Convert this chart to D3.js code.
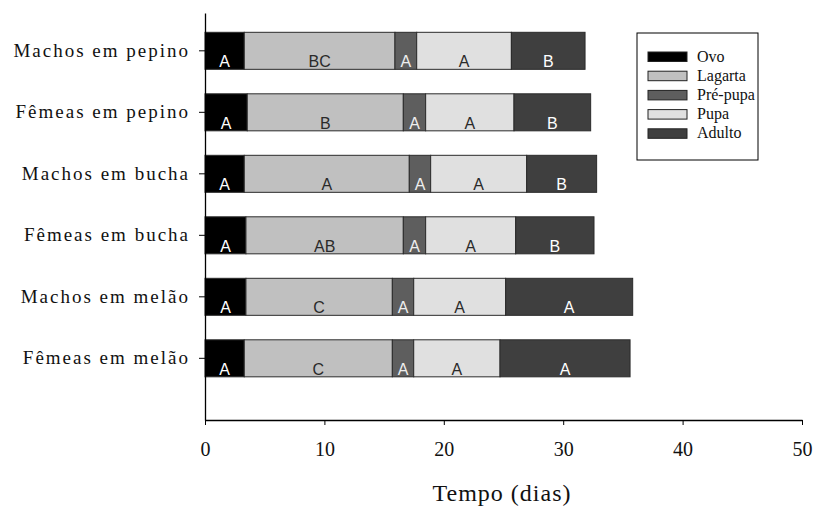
<!DOCTYPE html>
<html>
<head>
<meta charset="utf-8">
<script src="https://cdn.jsdelivr.net/npm/d3@7"></script>
<style>
  html, body { margin: 0; padding: 0; background: #fff; }
  svg { display: block; }
</style>
</head>
<body>
<svg id="chart" width="814" height="508"></svg>
<script>
const categories = ["Machos em pepino", "Fêmeas em pepino", "Machos em bucha", "Fêmeas em bucha", "Machos em melão", "Fêmeas em melão"];
const stages = ["Ovo", "Lagarta", "Pré-pupa", "Pupa", "Adulto"];
const ovo     = [3.29, 3.54, 3.29, 3.43, 3.43, 3.29];
const lagarta = [12.62, 13.07, 13.82, 13.18, 12.26, 12.40];
const prepupa = [1.82, 1.87, 1.79, 1.87, 1.79, 1.79];
const pupa    = [7.93, 7.40, 8.04, 7.54, 7.70, 7.23];
const adulto  = [6.17, 6.42, 5.86, 6.56, 10.64, 10.89];
const letOvo     = ["A", "A", "A", "A", "A", "A"];
const letLagarta = ["BC", "B", "A", "AB", "C", "C"];
const letPrepupa = ["A", "A", "A", "A", "A", "A"];
const letPupa    = ["A", "A", "A", "A", "A", "A"];
const letAdulto  = ["B", "B", "B", "B", "A", "A"];
const xTicks = [0, 10, 20, 30, 40, 50];

const seriesVals = [ovo, lagarta, prepupa, pupa, adulto];
const seriesLets = [letOvo, letLagarta, letPrepupa, letPupa, letAdulto];
const fills = ["#000000", "#c0c0c0", "#5e5e5e", "#e0e0e0", "#3f3f3f"];
const letterColors = ["#ffffff", "#2a2a2a", "#eeeeee", "#2a2a2a", "#ffffff"];
const SERIF = "'Liberation Serif', 'Times New Roman', Times, serif";
const SANS = "'Liberation Sans', Arial, sans-serif";

const rows = categories.map((c, i) => {
  const r = { cat: c };
  stages.forEach((s, k) => r[s] = seriesVals[k][i]);
  return r;
});
const stacked = d3.stack().keys(stages)(rows);

const svg = d3.select("#chart");
const x = d3.scaleLinear().domain([0, 50]).range([205, 802]);
const y = d3.scaleBand().domain(categories).range([13, 420])
  .paddingInner(0.398).paddingOuter(0.508).align(0.309);

// bars
stacked.forEach((layer, k) => {
  const g = svg.append("g");
  g.selectAll("rect").data(layer).join("rect")
    .attr("x", d => x(d[0]))
    .attr("y", d => y(d.data.cat))
    .attr("width", d => x(d[1]) - x(d[0]))
    .attr("height", y.bandwidth())
    .attr("fill", fills[k])
    .attr("stroke", "#2b2b2b")
    .attr("stroke-width", 1);
  g.selectAll("text").data(layer).join("text")
    .attr("x", d => (x(d[0]) + x(d[1])) / 2)
    .attr("y", d => y(d.data.cat) + y.bandwidth() - 2)
    .attr("text-anchor", "middle")
    .style("font-family", SANS)
    .style("font-size", "16px")
    .attr("fill", letterColors[k])
    .text((d, i) => seriesLets[k][i]);
});

// x axis
const xAxis = svg.append("g").attr("transform", "translate(0,420)")
  .call(d3.axisBottom(x).tickValues(xTicks).tickSize(5).tickPadding(17).tickSizeOuter(0));
xAxis.select(".domain").attr("stroke", "#000").attr("stroke-width", 1.3);
xAxis.selectAll(".tick line").attr("stroke", "#000");
xAxis.selectAll(".tick text").style("font-family", SERIF)
  .style("font-size", "20px").attr("fill", "#111");

// y axis
const yAxis = svg.append("g").attr("transform", "translate(205,0)")
  .call(d3.axisLeft(y).tickSize(6).tickPadding(9).tickSizeOuter(0));
yAxis.select(".domain").attr("stroke", "#000").attr("stroke-width", 1.3);
yAxis.selectAll(".tick line").attr("stroke", "#000");
yAxis.selectAll(".tick text").style("font-family", SERIF)
  .style("font-size", "19px").attr("fill", "#111").style("letter-spacing", "2px");

// x title
svg.append("text").attr("x", 502).attr("y", 501).attr("text-anchor", "middle")
  .style("font-family", SERIF)
  .style("font-size", "24px").style("letter-spacing", "1px").attr("fill", "#111")
  .text("Tempo (dias)");

// legend
const leg = svg.append("g");
leg.append("rect").attr("x", 637).attr("y", 33).attr("width", 121).attr("height", 127)
  .attr("fill", "#fff").attr("stroke", "#000").attr("stroke-width", 1);
stages.forEach((s, k) => {
  const yy = 52 + k * 19.2;
  leg.append("rect").attr("x", 648).attr("y", yy).attr("width", 39).attr("height", 9.5)
    .attr("fill", fills[k]).attr("stroke", "#222").attr("stroke-width", 1);
  leg.append("text").attr("x", 697).attr("y", yy + 9.5)
    .style("font-family", SERIF)
    .style("font-size", "16px").attr("fill", "#111").text(s);
});
</script>
</body>
</html>
